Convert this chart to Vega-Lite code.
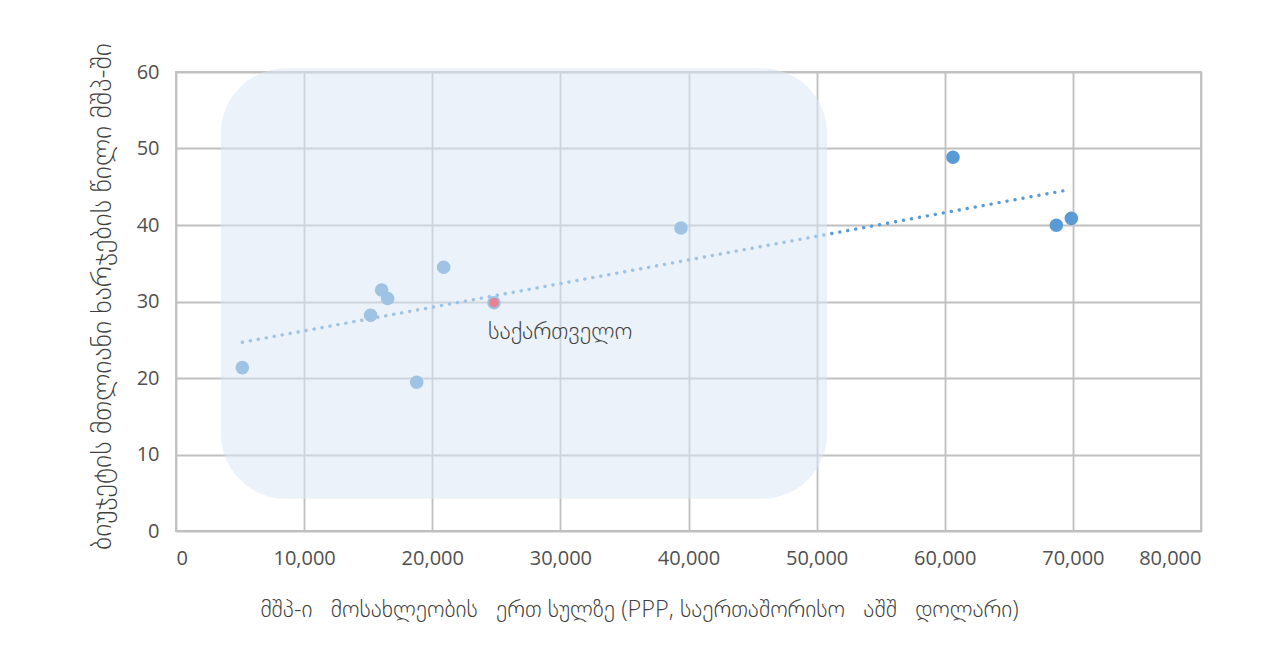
{
  "$schema": "https://vega.github.io/schema/vega-lite/v6.json",
  "width": 1025,
  "height": 459,
  "autosize": {"type": "none"},
  "padding": {"left": 176, "top": 72, "right": 84, "bottom": 130},
  "background": "white",
  "config": {
    "font": "Open Sans, DejaVu Sans",
    "view": {"stroke": "#C0C0C0", "strokeWidth": 1.8},
    "axis": {
      "ticks": false,
      "domain": false,
      "grid": true,
      "gridColor": "#C0C0C0",
      "gridWidth": 1.8,
      "labelColor": "#505050",
      "labelFontSize": 20,
      "labelFontWeight": "normal",
      "titleColor": "#404040",
      "titleFontWeight": 300
    }
  },
  "datasets": {
    "countries": [
      {"gdp": 5175, "share": 21.35},
      {"gdp": 15190, "share": 28.2},
      {"gdp": 16050, "share": 31.5},
      {"gdp": 16520, "share": 30.4},
      {"gdp": 18785, "share": 19.44},
      {"gdp": 20890, "share": 34.47},
      {"gdp": 24820, "share": 29.84},
      {"gdp": 39415, "share": 39.6},
      {"gdp": 60640, "share": 48.85},
      {"gdp": 68710, "share": 39.96},
      {"gdp": 69880, "share": 40.87}
    ],
    "trend": [
      {"gdp": 5175, "share": 24.67},
      {"gdp": 69670, "share": 44.6}
    ],
    "zone": [
      {"x1": 3510, "x2": 50810, "y1": 4.2, "y2": 60.5}
    ],
    "georgia": [
      {"gdp": 24820, "share": 29.84, "label": "საქართველო"}
    ]
  },
  "layer": [
    {
      "data": {"name": "countries"},
      "mark": {"type": "circle", "size": 185, "color": "#5B9BD5", "opacity": 1},
      "encoding": {
        "x": {
          "field": "gdp",
          "type": "quantitative",
          "scale": {"domain": [0, 80000], "nice": false, "zero": true},
          "axis": {
            "title": "მშპ-ი\u00a0\u00a0 მოსახლეობის\u00a0\u00a0 ერთ სულზე (PPP, საერთაშორისო\u00a0\u00a0 აშშ\u00a0\u00a0 დოლარი)",
            "values": [0, 10000, 20000, 30000, 40000, 50000, 60000, 70000, 80000],
            "format": ",d",
            "labelPadding": 17,
            "titleFontSize": 23.5,
            "titlePadding": 29,
            "titleX": 463,
            "titleAlign": "center"
          }
        },
        "y": {
          "field": "share",
          "type": "quantitative",
          "scale": {"domain": [0, 60], "nice": false},
          "axis": {
            "title": "ბიუჯეტის მთლიანი ხარჯების წილი მშპ-ში",
            "values": [0, 10, 20, 30, 40, 50, 60],
            "labelPadding": 17,
            "titleFontSize": 28,
            "titlePadding": 20,
            "titleY": 224
          }
        }
      }
    },
    {
      "data": {"name": "trend"},
      "mark": {"type": "line", "color": "#5B9BD5", "strokeWidth": 3.4, "strokeDash": [0.1, 8], "strokeCap": "round"},
      "encoding": {
        "x": {"field": "gdp", "type": "quantitative"},
        "y": {"field": "share", "type": "quantitative"}
      }
    },
    {
      "data": {"name": "georgia"},
      "mark": {"type": "circle", "size": 90, "color": "#F5141E", "opacity": 1},
      "encoding": {
        "x": {"field": "gdp", "type": "quantitative"},
        "y": {"field": "share", "type": "quantitative"}
      }
    },
    {
      "data": {"name": "zone"},
      "mark": {"type": "rect", "fill": "#D9E6F4", "opacity": 0.53, "cornerRadius": 65},
      "encoding": {
        "x": {"field": "x1", "type": "quantitative"},
        "x2": {"field": "x2"},
        "y": {"field": "y1", "type": "quantitative"},
        "y2": {"field": "y2"}
      }
    },
    {
      "data": {"name": "georgia"},
      "mark": {"type": "text", "align": "left", "baseline": "middle", "dx": -6, "dy": 29, "fontSize": 24, "fontWeight": 300, "color": "#404040"},
      "encoding": {
        "x": {"field": "gdp", "type": "quantitative"},
        "y": {"field": "share", "type": "quantitative"},
        "text": {"field": "label"}
      }
    }
  ]
}
